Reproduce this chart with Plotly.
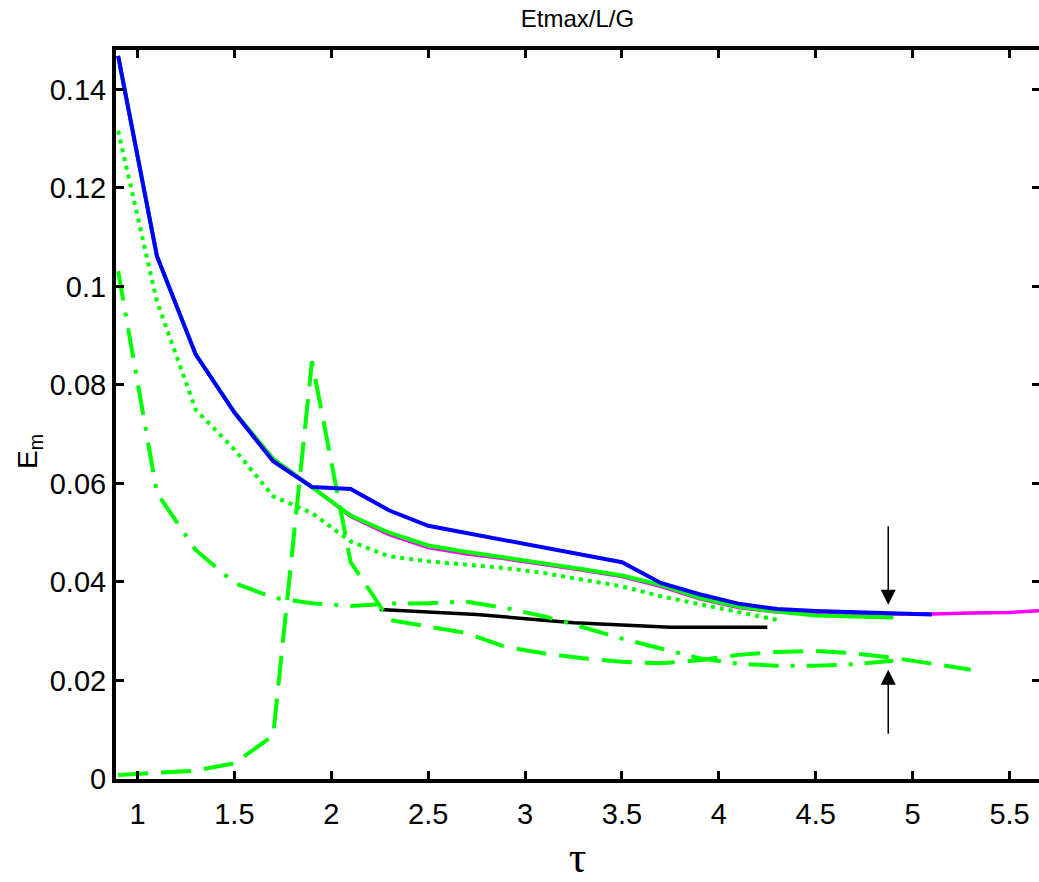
import plotly.graph_objects as go

# ---------------- data ----------------
tau = [0.9, 1.1, 1.3, 1.5, 1.7, 1.9, 2.1, 2.3, 2.5, 2.7, 2.9, 3.1, 3.3, 3.5,
       3.7, 3.9, 4.1, 4.3, 4.5, 4.7, 4.9]

blue_x = tau + [5.1]
blue_y = [0.1468, 0.1062, 0.0862, 0.0744, 0.0645, 0.0593, 0.0589, 0.0545, 0.0514,
          0.0499, 0.0484, 0.0469, 0.0455, 0.0440, 0.0398, 0.0375, 0.0356, 0.0345,
          0.0341, 0.0338, 0.0335, 0.0334]

green_x = tau
green_y = [0.1468, 0.1062, 0.0862, 0.0745, 0.0650, 0.0593, 0.0535, 0.0500, 0.0474,
           0.0461, 0.0450, 0.0438, 0.0426, 0.0413, 0.0394, 0.0368, 0.0350, 0.0340,
           0.0332, 0.0330, 0.0328]

magenta_x = tau + [5.1, 5.3, 5.5, 5.7]
magenta_y = [0.1468, 0.1062, 0.0862, 0.0745, 0.0650, 0.0593, 0.0533, 0.0496, 0.0470,
             0.0457, 0.0447, 0.0436, 0.0424, 0.0411, 0.0391, 0.0366, 0.0348, 0.0339,
             0.0335, 0.0335, 0.0335, 0.0335, 0.0337, 0.0338, 0.0343]

dotted_x = [0.9, 1.1, 1.3, 1.5, 1.7, 1.9, 2.1, 2.3, 2.5, 2.7, 2.9, 3.1, 3.3, 3.5,
            3.7, 3.9, 4.1, 4.3]
dotted_y = [0.1316, 0.0970, 0.0750, 0.0669, 0.0574, 0.0540, 0.0482, 0.0452, 0.0442,
            0.0436, 0.0428, 0.0418, 0.0405, 0.0391, 0.0371, 0.0355, 0.0337, 0.0323]

dashdot_x = tau
dashdot_y = [0.1031, 0.0581, 0.0465, 0.0398, 0.0368, 0.0357, 0.0351, 0.0356, 0.0357,
             0.0360, 0.0347, 0.0330, 0.0308, 0.0285, 0.0265, 0.0245, 0.0234, 0.0230,
             0.0230, 0.0233, 0.0240]

dashed_x = tau + [5.1, 5.3]
dashed_y = [0.0008, 0.0012, 0.0017, 0.0032, 0.0088, 0.0848, 0.0440, 0.0323, 0.0310,
            0.0296, 0.0268, 0.0255, 0.0245, 0.0238, 0.0235, 0.0241, 0.0252, 0.0258,
            0.0260, 0.0255, 0.0246, 0.0235, 0.0222]

black_x = [2.25, 2.75, 3.25, 3.75, 4.25]
black_y = [0.0344, 0.0334, 0.0317, 0.0308, 0.0308]

# arrow markers (tip, tail)
arrow_x = 4.874
arrow_down = (0.0354, 0.0516)
arrow_up = (0.0222, 0.0089)

x_ticks = [1, 1.5, 2, 2.5, 3, 3.5, 4, 4.5, 5, 5.5]
x_ticktext = ["1", "1.5", "2", "2.5", "3", "3.5", "4", "4.5", "5", "5.5"]
y_ticks = [0, 0.02, 0.04, 0.06, 0.08, 0.1, 0.12, 0.14]
y_ticktext = ["0", "0.02", "0.04", "0.06", "0.08", "0.1", "0.12", "0.14"]

x_range = [0.889, 5.652]
y_range = [0.0, 0.148]

# ---------------- figure ----------------
GREEN = "#00ff00"
fig = go.Figure()

fig.add_trace(go.Scatter(x=magenta_x, y=magenta_y, mode="lines",
                         line=dict(color="#ff00ff", width=3.5)))
fig.add_trace(go.Scatter(x=green_x, y=green_y, mode="lines",
                         line=dict(color=GREEN, width=4)))
fig.add_trace(go.Scatter(x=dotted_x, y=dotted_y, mode="lines",
                         line=dict(color=GREEN, width=4, dash="4px,5px")))
fig.add_trace(go.Scatter(x=black_x, y=black_y, mode="lines",
                         line=dict(color="black", width=3.5)))
fig.add_trace(go.Scatter(x=dashdot_x, y=dashdot_y, mode="lines",
                         line=dict(color=GREEN, width=4, dash="30px,12px,4px,12px")))
fig.add_trace(go.Scatter(x=dashed_x, y=dashed_y, mode="lines",
                         line=dict(color=GREEN, width=4, dash="30px,13px")))
fig.add_trace(go.Scatter(x=blue_x, y=blue_y, mode="lines",
                         line=dict(color="#0000ff", width=4)))
# invisible trace to host right-hand tick axis
fig.add_trace(go.Scatter(x=[None], y=[None], yaxis="y2", mode="lines",
                         hoverinfo="skip"))

for tip, tail in (arrow_down, arrow_up):
    fig.add_annotation(x=arrow_x, y=tip, ax=arrow_x, ay=tail,
                       xref="x", yref="y", axref="x", ayref="y",
                       text="", showarrow=True, arrowhead=2, arrowsize=2,
                       arrowwidth=1.5, arrowcolor="black")

FONT = "Liberation Sans, Arial, sans-serif"

# y-axis label placed like the original (slightly below plot centre)
fig.add_annotation(text="E<sub>m</sub>", xref="paper", yref="paper",
                   x=(30 - 116) / 923, y=(779 - 452) / 729,
                   xanchor="center", yanchor="middle", textangle=-90,
                   showarrow=False, font=dict(size=28, family=FONT, color="black"))

fig.update_layout(
    width=1039, height=882,
    margin=dict(l=116, r=0, t=50, b=103),
    paper_bgcolor="white", plot_bgcolor="white",
    showlegend=False,
    font=dict(family=FONT, color="black", size=29),
    title=dict(text="Etmax/L/G", x=(116 + 1039) / 2 / 1039, xanchor="center",
               y=1 - 19 / 882, yanchor="middle", yref="container",
               font=dict(size=24, family=FONT, color="black")),
    xaxis=dict(range=x_range, tickvals=x_ticks, ticktext=x_ticktext,
               ticks="inside", ticklen=8, tickwidth=3, tickcolor="black",
               showline=True, linewidth=4, linecolor="black", mirror="ticks",
               showgrid=False, zeroline=False, ticklabelstandoff=6,
               tickfont=dict(size=29, family=FONT),
               title=dict(text="τ", standoff=14,
                          font=dict(size=44, family="Liberation Serif, Times New Roman, serif"))),
    yaxis=dict(range=y_range, tickvals=y_ticks, ticktext=y_ticktext,
               ticks="inside", ticklen=8, tickwidth=3, tickcolor="black",
               showline=True, linewidth=4, linecolor="black", mirror=False,
               showgrid=False, zeroline=False,
               tickfont=dict(size=29, family=FONT)),
    yaxis2=dict(overlaying="y", side="right", matches="y", range=y_range,
                tickvals=y_ticks, ticks="inside", ticklen=7, tickwidth=3,
                tickcolor="black", showticklabels=False, showline=False,
                showgrid=False, zeroline=False),
)

fig.write_html("out.html")
